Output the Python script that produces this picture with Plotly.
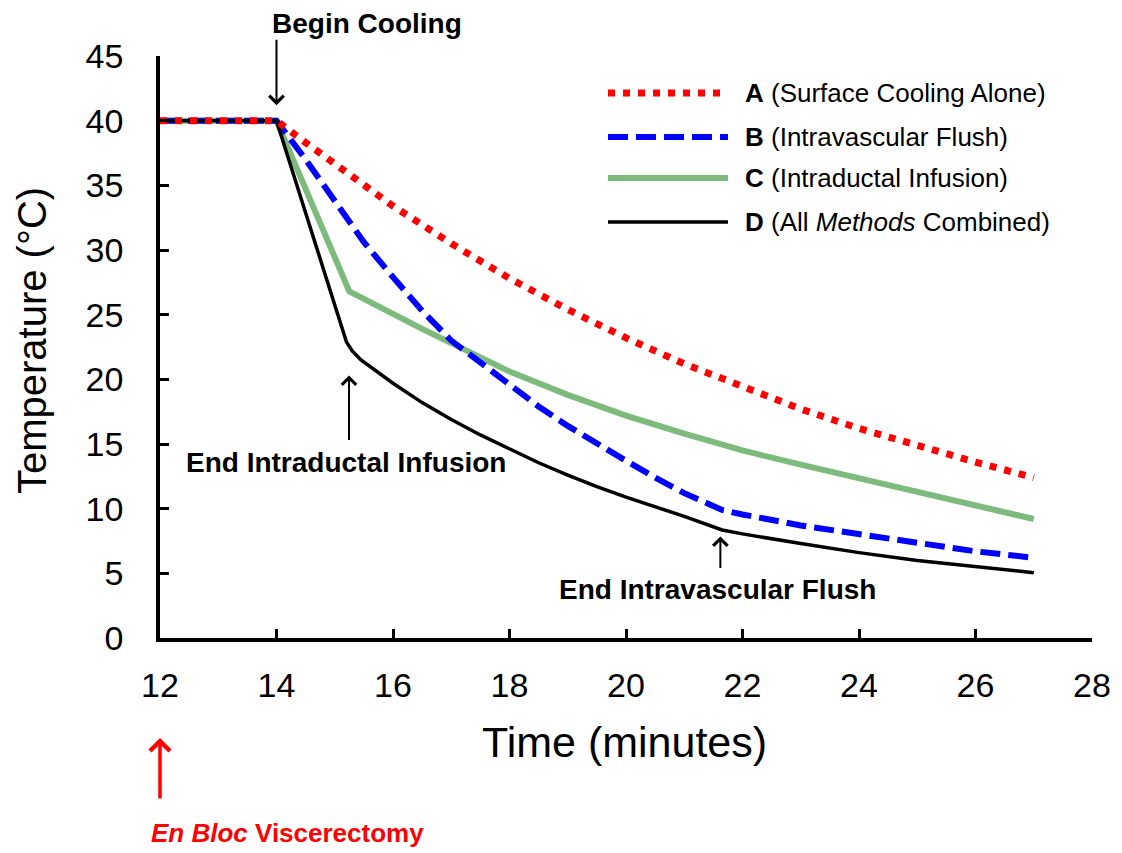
import plotly.graph_objects as go

# Organ temperature during cooling, four methods
a_time = [12, 14, 14.5, 15, 15.5, 16, 17, 18, 19, 20, 21, 22, 23, 24, 25, 26, 27]
a_temp = [40, 40, 38.3, 36.7, 35.0, 33.4, 30.5, 27.8, 25.4, 23.2, 21.2, 19.4, 17.7, 16.2, 14.85, 13.6, 12.4]

b_time = [12, 14, 14.5, 15, 15.5, 16, 16.5, 17, 17.5, 18, 18.5, 19, 19.5, 20, 20.5, 21, 21.65, 22, 23, 24, 25, 26, 27]
b_temp = [40, 40, 37.0, 33.8, 30.6, 27.9, 25.3, 23.0, 21.3, 19.6, 17.9, 16.4, 15.0, 13.7, 12.4, 11.2, 9.9, 9.55, 8.7, 8.0, 7.3, 6.7, 6.2]

c_time = [12, 14, 15.25, 15.5, 16, 16.5, 17, 17.5, 18, 19, 20, 21, 22, 23, 24, 25, 26, 27]
c_temp = [40, 40, 26.8, 26.2, 25.0, 23.9, 22.8, 21.7, 20.6, 18.8, 17.2, 15.8, 14.5, 13.4, 12.35, 11.3, 10.3, 9.2]

d_time = [12, 14, 15.2, 15.3, 15.45, 15.6, 16, 16.5, 17, 17.5, 18, 18.5, 19, 19.5, 20, 20.5, 21, 21.65, 22, 23, 24, 25, 26, 27]
d_temp = [40, 40, 22.9, 22.2, 21.5, 21.0, 19.7, 18.2, 16.9, 15.7, 14.6, 13.55, 12.6, 11.7, 10.9, 10.15, 9.4, 8.35, 8.05, 7.3, 6.6, 6.0, 5.5, 5.05]

legend_labels = [
    "<b>A</b> (Surface Cooling Alone)",
    "<b>B</b> (Intravascular Flush)",
    "<b>C</b> (Intraductal Infusion)",
    "<b>D</b> (All <i>Methods</i> Combined)",
]

x_ticks = [12, 14, 16, 18, 20, 22, 24, 26, 28]
y_ticks = [0, 5, 10, 15, 20, 25, 30, 35, 40, 45]

FONT = "Arial, 'Liberation Sans', sans-serif"

styles = {
    "A": dict(color="#ff0000", width=7, dash="7px,8px"),
    "B": dict(color="#0000ff", width=6, dash="20px,8px"),
    "C": dict(color="#7dbb7d", width=6, dash="solid"),
    "D": dict(color="#000000", width=3.5, dash="solid"),
}

fig = go.Figure()
# drawing order: C, B, D, A (dotted red on top)
for key, xs, ys in [("C", c_time, c_temp), ("B", b_time, b_temp),
                    ("D", d_time, d_temp), ("A", a_time, a_temp)]:
    fig.add_trace(go.Scatter(x=xs, y=ys, mode="lines", line=styles[key],
                             hoverinfo="skip", showlegend=False))

annotations = []
shapes = []

# hand-built legend (long line samples)
legend_rows_y = [0.9364, 0.8608, 0.7904, 0.7148]
for key, label, ly in zip("ABCD", legend_labels, legend_rows_y):
    st = styles[key]
    shapes.append(dict(type="line", xref="paper", yref="paper",
                       x0=0.4807, x1=0.6094, y0=ly, y1=ly,
                       line=dict(color=st["color"], width=st["width"], dash=st["dash"])))
    annotations.append(dict(xref="paper", yref="paper", x=0.6255, y=ly,
                            xanchor="left", yanchor="middle", showarrow=False,
                            text=label, font=dict(family=FONT, size=26, color="black")))

# event markers
arrow_common = dict(showarrow=True, arrowhead=4, arrowsize=1.4, arrowwidth=2,
                    arrowcolor="black", text="", axref="pixel", ayref="pixel")
annotations.append(dict(x=14, y=41.2, xref="x", yref="y", ax=0, ay=-67, **arrow_common))
annotations.append(dict(x=15.245, y=20.3, xref="x", yref="y", ax=0, ay=66, **arrow_common))
annotations.append(dict(x=21.62, y=7.85, xref="x", yref="y", ax=0, ay=33, **arrow_common))
annotations.append(dict(x=0, y=-0.1718, xref="paper", yref="paper", ax=0, ay=62,
                        showarrow=True, arrowhead=4, arrowsize=1.1, arrowwidth=3.5,
                        arrowcolor="#ff0000", text="", axref="pixel", ayref="pixel"))

bold_font = dict(family=FONT, size=28, color="black")
annotations += [
    dict(xref="paper", yref="paper", x=0.2221, y=1.0567, showarrow=False,
         text="<b>Begin Cooling</b>", font=bold_font, xanchor="center", yanchor="middle"),
    dict(xref="paper", yref="paper", x=0.1996, y=0.3007, showarrow=False,
         text="<b>End Intraductal Infusion</b>", font=bold_font, xanchor="center", yanchor="middle"),
    dict(xref="paper", yref="paper", x=0.5987, y=0.0825, showarrow=False,
         text="<b>End Intravascular Flush</b>", font=bold_font, xanchor="center", yanchor="middle"),
    dict(xref="paper", yref="paper", x=0.1363, y=-0.335, showarrow=False,
         text="<b><i>En Bloc</i> Viscerectomy</b>",
         font=dict(family=FONT, size=26, color="#ff0000"), xanchor="center", yanchor="middle"),
    dict(xref="paper", yref="paper", x=0.4989, y=-0.1787, showarrow=False,
         text="Time (minutes)", font=dict(family=FONT, size=43, color="black"),
         xanchor="center", yanchor="middle"),
    dict(xref="paper", yref="paper", x=-0.1373, y=0.5103, showarrow=False,
         text="Temperature (°C)", textangle=-90,
         font=dict(family=FONT, size=40, color="black"),
         xanchor="center", yanchor="middle"),
]

fig.update_layout(
    width=1122, height=853,
    margin=dict(l=160, r=30, t=56, b=215),
    paper_bgcolor="white", plot_bgcolor="white",
    showlegend=False,
    annotations=annotations,
    shapes=shapes,
    font=dict(family=FONT, color="black"),
)

fig.update_xaxes(range=[12, 28], tickvals=x_ticks, ticktext=[str(v) for v in x_ticks],
                 showgrid=False, zeroline=False, showline=True, linecolor="black",
                 linewidth=3.5, ticks="inside", ticklen=9, tickwidth=2.5, tickcolor="black",
                 tickfont=dict(family=FONT, size=34, color="black"), ticklabelstandoff=14)
fig.update_yaxes(range=[0, 45], tickvals=y_ticks, ticktext=[str(v) for v in y_ticks],
                 showgrid=False, zeroline=False, showline=True, linecolor="black",
                 linewidth=3.5, ticks="inside", ticklen=9, tickwidth=2.5, tickcolor="black",
                 tickfont=dict(family=FONT, size=34, color="black"), ticklabelstandoff=26)

fig.write_html("out.html")
